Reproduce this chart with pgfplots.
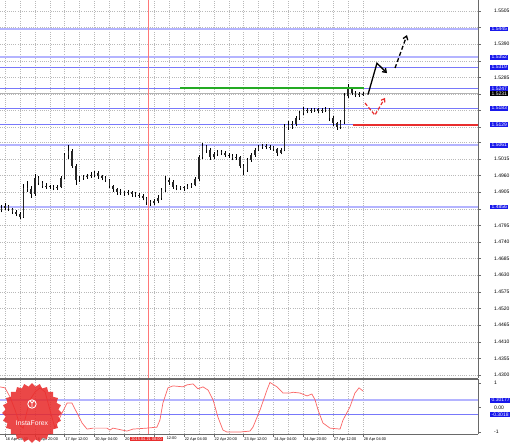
\documentclass[border=0pt]{standalone}
\usepackage{fontspec}
\setmainfont{Liberation Sans}
\usepackage{pgfplots}
\pgfplotsset{compat=1.18}
\usepackage{pgfplotstable}
\usetikzlibrary{shapes.geometric,arrows.meta}

\definecolor{lvl}{RGB}{120,120,250}
\definecolor{lvlwide}{RGB}{180,180,255}
\definecolor{lvlbox}{RGB}{25,25,235}
\definecolor{grd}{RGB}{185,185,185}
\definecolor{frm}{RGB}{105,105,105}
\definecolor{grn}{RGB}{35,170,35}
\definecolor{rd}{RGB}{232,45,45}
\definecolor{osc}{RGB}{250,100,100}
\definecolor{vline}{RGB}{255,120,120}

% hourly candles (every 2nd bar), t = bars since 16 Apr 04:00
\pgfplotstableread{
t o h l c
-2 1.4845 1.4862 1.4838 1.4853
0 1.4853 1.4870 1.4846 1.4859
2 1.4859 1.4864 1.4842 1.4849
4 1.4849 1.4853 1.4832 1.4839
6 1.4839 1.4845 1.4826 1.4833
8 1.4833 1.4838 1.4815 1.4823
10 1.4823 1.4932 1.4820 1.4919
12 1.4919 1.4942 1.4905 1.4915
14 1.4915 1.4925 1.4885 1.4899
16 1.4899 1.4965 1.4893 1.4952
18 1.4952 1.4960 1.4928 1.4935
20 1.4935 1.4942 1.4918 1.4925
22 1.4925 1.4934 1.4916 1.4927
24 1.4927 1.4930 1.4914 1.4922
26 1.4922 1.4928 1.4911 1.4919
28 1.4919 1.4930 1.4912 1.4922
30 1.4922 1.4960 1.4918 1.4952
32 1.4952 1.5036 1.4948 1.5028
34 1.5028 1.5060 1.5015 1.5041
36 1.5041 1.5048 1.4985 1.4992
38 1.4992 1.4998 1.4930 1.4945
40 1.4945 1.4960 1.4938 1.4952
42 1.4952 1.4962 1.4946 1.4955
44 1.4955 1.4966 1.4949 1.4958
46 1.4958 1.4972 1.4952 1.4962
48 1.4962 1.4976 1.4955 1.4968
50 1.4968 1.4974 1.4950 1.4958
52 1.4958 1.4963 1.4944 1.4952
54 1.4952 1.4958 1.4938 1.4945
56 1.4945 1.4950 1.4918 1.4925
58 1.4925 1.4930 1.4906 1.4915
60 1.4915 1.4920 1.4896 1.4905
62 1.4905 1.4914 1.4897 1.4907
64 1.4907 1.4910 1.4893 1.4902
66 1.4902 1.4911 1.4894 1.4904
68 1.4904 1.4908 1.4890 1.4899
70 1.4899 1.4904 1.4888 1.4896
72 1.4896 1.4902 1.4885 1.4892
74 1.4892 1.4898 1.4878 1.4886
76 1.4886 1.4890 1.4862 1.4872
78 1.4872 1.4880 1.4860 1.4869
80 1.4869 1.4884 1.4862 1.4876
82 1.4876 1.4895 1.4868 1.4886
84 1.4886 1.4920 1.4880 1.4912
86 1.4912 1.4958 1.4905 1.4945
88 1.4945 1.4952 1.4930 1.4939
90 1.4939 1.4944 1.4915 1.4922
92 1.4922 1.4928 1.4911 1.4919
94 1.4919 1.4927 1.4912 1.4921
96 1.4921 1.4926 1.4910 1.4918
98 1.4918 1.4932 1.4914 1.4925
100 1.4925 1.4937 1.4920 1.4929
102 1.4929 1.4955 1.4924 1.4948
104 1.4948 1.5028 1.4942 1.5021
106 1.5021 1.5068 1.5015 1.5058
108 1.5058 1.5062 1.5036 1.5045
110 1.5045 1.5050 1.5012 1.5021
112 1.5021 1.5039 1.5015 1.5031
114 1.5031 1.5045 1.5026 1.5038
116 1.5038 1.5043 1.5028 1.5035
118 1.5035 1.5040 1.5022 1.5028
120 1.5028 1.5034 1.5018 1.5025
122 1.5025 1.5030 1.5010 1.5018
124 1.5018 1.5030 1.5012 1.5021
126 1.5021 1.5025 1.4984 1.4992
128 1.4992 1.4998 1.4962 1.4978
130 1.4978 1.5018 1.4972 1.5011
132 1.5011 1.5035 1.5005 1.5028
134 1.5028 1.5052 1.5022 1.5045
136 1.5045 1.5062 1.5040 1.5054
138 1.5054 1.5066 1.5048 1.5058
140 1.5058 1.5064 1.5047 1.5054
142 1.5054 1.5062 1.5046 1.5056
144 1.5056 1.5058 1.5040 1.5048
146 1.5048 1.5052 1.5026 1.5035
148 1.5035 1.5052 1.5030 1.5045
150 1.5045 1.5130 1.5040 1.5121
152 1.5121 1.5140 1.5110 1.5127
154 1.5127 1.5142 1.5115 1.5131
156 1.5131 1.5158 1.5124 1.5150
158 1.5150 1.5175 1.5144 1.5167
160 1.5167 1.5186 1.5160 1.5177
162 1.5177 1.5183 1.5166 1.5174
164 1.5174 1.5184 1.5168 1.5177
166 1.5177 1.5185 1.5170 1.5179
168 1.5179 1.5182 1.5167 1.5174
170 1.5174 1.5184 1.5168 1.5177
172 1.5177 1.5188 1.5170 1.5180
174 1.5180 1.5184 1.5142 1.5150
176 1.5150 1.5156 1.5125 1.5134
178 1.5134 1.5138 1.5112 1.5121
180 1.5121 1.5144 1.5115 1.5137
182 1.5137 1.5232 1.5132 1.5223
184 1.5223 1.5262 1.5218 1.5246
186 1.5246 1.5252 1.5225 1.5233
188 1.5233 1.5240 1.5220 1.5227
190 1.5227 1.5238 1.5221 1.5230
192 1.5230 1.5237 1.5224 1.5231
}\candles

% oscillator of the lower window
\pgfplotstableread{
t v
-2.7 0.84
0 0.80
2.7 0.43
5.4 -0.10
8.0 -0.71
9.7 -0.84
11.3 -0.31
13.4 0.31
16.1 0.63
18.8 0.80
21.5 0.63
24.1 -0.10
26.8 -0.84
30.6 -0.22
33.3 0.18
35.9 0.18
38.6 -0.22
41.3 -0.63
44.0 -0.88
47.2 -0.84
54.7 -0.84
56.3 -0.92
57.9 -0.84
65.4 -0.96
68.6 -0.88
76.2 -0.84
81.5 -0.80
83.1 -0.51
84.7 0.18
87.4 0.80
90.1 0.88
95.5 0.84
97.6 0.92
100.8 0.96
103.5 0.76
106.2 0.84
108.9 0.71
111.6 0.31
114.2 -0.39
116.9 -0.92
119.1 -1.00
126.0 -1.00
131.4 -0.96
133.0 -0.80
136.8 -0.10
140.5 0.71
142.1 1.02
145.9 0.84
149.1 0.59
152.8 0.59
154.5 0.62
158.2 0.59
162.0 0.47
164.6 0.55
166.3 0.31
167.9 -0.10
170.5 -0.63
174.3 -0.84
179.7 -0.88
181.3 -0.51
185.0 0.02
187.7 0.59
189.9 0.80
192.0 0.67
}\osctab

\tikzset{
  pricebox/.style={fill=lvlbox, text=white, anchor=west, inner xsep=1.4pt, inner ysep=0.7pt,
    xshift=12pt, font=\fontsize{5}{5.5}\selectfont},
}

\pgfplotsset{
  mt/.style={
    scale only axis, width=478pt,
    xmin=-2.68, xmax=253.7,
    axis line style={draw=none},
    xtick={0,16,...,192}, minor x tick num=1,
    xmajorgrids, xminorgrids,
    grid style={grd, dash pattern=on 1pt off 1.2pt, line width=0.4pt},
    ytick pos=right, yticklabel pos=right,
    tick align=outside, major tick length=2.5pt, minor tick length=0pt,
    tick style={frm, line width=0.4pt},
    ticklabel style={font=\fontsize{5}{5.5}\selectfont},
    yticklabel style={anchor=west, inner xsep=1.4pt, inner ysep=0.7pt, xshift=12pt},
    clip=false,
  },
  wide level/.style={lvlwide, line width=1.9pt},
  thin level/.style={lvl, line width=1pt},
}

\begin{document}
\begin{tikzpicture}
\begin{axis}[mt,
  at={(0,0)}, anchor=north west, height=378pt,
  ymin=1.4290, ymax=1.5541,
  xticklabels={}, xtick style={draw=none},
  ymajorgrids,
  ytick={1.4300,1.4355,1.4410,1.4465,1.4520,1.4575,1.4630,1.4685,1.4740,1.4795,1.4850,1.4905,1.4960,1.5015,1.5070,1.5120,1.5175,1.5230,1.5285,1.5340,1.5395,1.5450,1.5505},
  yticklabels={1.4300,1.4355,1.4410,1.4465,1.4520,1.4575,1.4630,1.4685,1.4740,1.4795,{},1.4905,1.4960,1.5015,{},{},{},{},1.5285,{},1.5390,{},1.5505},
]
% support / resistance levels
\addplot[wide level] coordinates {(-2.68,1.5445) (253.7,1.5445)};
\addplot[wide level] coordinates {(-2.68,1.5352) (253.7,1.5352)};
\addplot[thin level] coordinates {(-2.68,1.5319) (253.7,1.5319)};
\addplot[thin level] coordinates {(-2.68,1.5247) (253.7,1.5247)};
\addplot[thin level] coordinates {(-2.68,1.5183) (253.7,1.5183)};
\addplot[thin level] coordinates {(-2.68,1.5129) (253.7,1.5129)};
\addplot[wide level] coordinates {(-2.68,1.5061) (253.7,1.5061)};
\addplot[wide level] coordinates {(-2.68,1.4856) (253.7,1.4856)};
\addplot[gray!60, line width=0.4pt] coordinates {(-2.68,1.5231) (253.7,1.5231)};
% marked bar
\addplot[vline, line width=0.5pt] coordinates {(76.7,1.4290) (76.7,1.5541)};
% candles: wicks then bodies
\addplot[draw=none, mark=none, error bars/.cd, y dir=plus, y explicit, error mark=none,
  error bar style={black, line width=0.45pt}]
  table[x=t, y=l, y error plus expr=\thisrow{h}-\thisrow{l}] {\candles};
\addplot[draw=none, mark=none, error bars/.cd, y dir=plus, y explicit, error mark=none,
  error bar style={black!85, line width=1.5pt}]
  table[x=t, y=o, y error plus expr=\thisrow{c}-\thisrow{o}] {\candles};
% drawn forecast
\addplot[grn, line width=1.7pt] coordinates {(93.9,1.5250) (192.5,1.5250)};
\addplot[rd, line width=1.7pt] coordinates {(186.6,1.5127) (253.7,1.5127)};
\addplot[black, line width=1.3pt, -{Straight Barb[length=3.5pt,width=5pt]}]
  coordinates {(194.7,1.5228) (199.5,1.5332) (204.9,1.5299)};
\addplot[black, line width=1.3pt, dash pattern=on 4pt off 2.5pt, -{Straight Barb[length=3.5pt,width=5pt]}]
  coordinates {(209.2,1.5316) (215.6,1.5425)};
\addplot[rd, line width=1.2pt, dash pattern=on 3.5pt off 2pt, -{Straight Barb[length=3pt,width=4.5pt]}]
  coordinates {(193.1,1.5200) (198.4,1.5160) (203.8,1.5217)};
% price labels of the levels
\pgfplotsinvokeforeach{1.5445,1.5352,1.5319,1.5247,1.5183,1.5129,1.5061,1.4856}{
  \node[pricebox] at (axis cs:253.7,#1) {#1};
}
\node[pricebox, fill=black] at (axis cs:253.7,1.5231) {1.5231};
\draw[frm, line width=1pt] (rel axis cs:1,0) -- (rel axis cs:1,1);
\end{axis}

\begin{axis}[mt,
  at={(0,-379pt)}, anchor=north west, height=55pt,
  ymin=-1.08, ymax=1.16,
  ytick={-1,0,1}, yticklabels={-1,0.00,1},
  xtick pos=bottom,
  xticklabels={16 Apr 04:00,16 Apr 20:00,17 Apr 12:00,20 Apr 04:00,20,{},22 Apr 04:00,22 Apr 20:00,23 Apr 12:00,24 Apr 04:00,24 Apr 20:00,27 Apr 12:00,28 Apr 04:00},
  xticklabel style={anchor=north west, inner sep=0.6pt, font=\fontsize{3.9}{4.5}\selectfont},
]
\addplot[wide level] coordinates {(-2.68,0.30177) (253.7,0.30177)};
\addplot[thin level] coordinates {(-2.68,-0.3018) (253.7,-0.3018)};
\addplot[vline, line width=0.5pt] coordinates {(76.7,-1.08) (76.7,1.16)};
\addplot[osc, line width=0.7pt] table[x=t, y=v] {\osctab};
\node[pricebox] at (axis cs:253.7,0.30177) {0.30177};
\node[pricebox] at (axis cs:253.7,-0.3018) {-0.3018};
\draw[frm, line width=1pt] (rel axis cs:1,0) -- (rel axis cs:1,1);
\draw[frm, line width=1.6pt] (rel axis cs:0,1) -- (rel axis cs:1,1);
\draw[frm, line width=0.8pt] (rel axis cs:0,0) -- (rel axis cs:1,0);
\end{axis}

% time of the marked bar, hiding most of the two labels beside it
\node[fill=rd, text=white, inner xsep=1.5pt, inner ysep=0.8pt, font=\fontsize{3.9}{4.5}\selectfont]
  at (146.5pt,-438.8pt) {2015.04.21 08:00};
\node[anchor=north west, inner sep=0.6pt, font=\fontsize{3.9}{4.5}\selectfont] at (166pt,-435.6pt) {12:00};

% broker badge
\node[star, star points=24, star point ratio=1.13, fill=rd, opacity=0.88, minimum size=60pt, inner sep=0pt]
  at (32pt,-413pt) {};
\draw[white, line width=0.9pt] (32pt,-404pt) circle (4.2pt);
\draw[white, line width=0.8pt] (32pt,-407pt) -- (32pt,-401.5pt) (29.8pt,-401pt) -- (32pt,-403pt) -- (34.2pt,-401pt);
\node[text=white, font=\fontsize{6.8}{7}\selectfont] at (32pt,-423pt) {InstaForex};

\pgfresetboundingbox
\path[use as bounding box] (0,0) rectangle (510pt,-444pt);
\end{tikzpicture}
\end{document}
